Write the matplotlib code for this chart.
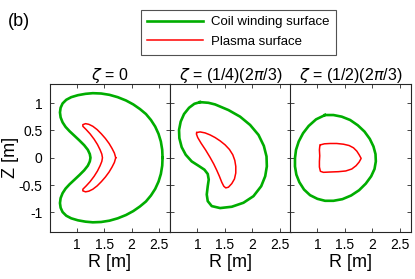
import matplotlib
matplotlib.use('Agg')
import matplotlib.pyplot as plt
from matplotlib.lines import Line2D

plt.rcParams['font.family'] = ['Liberation Sans', 'DejaVu Sans']
plt.rcParams['mathtext.fontset'] = 'dejavusans'

# cross-sections, (R, Z) in metres
coil_r_0 = [2.564, 2.558, 2.533, 2.491, 2.430, 2.352, 2.261, 2.152, 2.030, 1.897, 1.745, 1.594, 1.442,
            1.291, 1.158, 1.018, 0.897, 0.806, 0.739, 0.703, 0.691, 0.703, 0.739, 0.794, 0.867, 0.958,
            1.048, 1.133, 1.200, 1.236, 1.248,
            1.236, 1.200, 1.133, 1.048, 0.958, 0.867, 0.794, 0.739, 0.703, 0.691, 0.703, 0.739, 0.806,
            0.897, 1.018, 1.158, 1.291, 1.442, 1.594, 1.745, 1.897, 2.030, 2.152, 2.261, 2.352, 2.430,
            2.491, 2.533, 2.558, 2.564]
coil_z_0 = [0.000, 0.145, 0.297, 0.436, 0.570, 0.691, 0.800, 0.891, 0.976, 1.048, 1.109, 1.152, 1.176,
            1.182, 1.170, 1.145, 1.109, 1.061, 0.994, 0.915, 0.830, 0.739, 0.648, 0.564, 0.485, 0.400,
            0.315, 0.230, 0.145, 0.067, 0.000,
            -0.067, -0.145, -0.230, -0.315, -0.400, -0.485, -0.564, -0.648, -0.739, -0.830, -0.915, -0.994, -1.061,
            -1.109, -1.145, -1.170, -1.182, -1.176, -1.152, -1.109, -1.048, -0.976, -0.891, -0.800, -0.691, -0.570,
            -0.436, -0.297, -0.145, 0.000]
plasma_r_0 = [1.709, 1.685, 1.642, 1.588, 1.521, 1.448, 1.370, 1.291, 1.218, 1.158, 1.109, 1.109,
              1.170, 1.242, 1.315, 1.376, 1.424, 1.455, 1.467,
              1.455, 1.424, 1.376, 1.315, 1.242, 1.170,
              1.109, 1.109, 1.158, 1.218, 1.291, 1.370, 1.448, 1.521, 1.588, 1.642, 1.685, 1.709]
plasma_z_0 = [0.000, 0.085, 0.170, 0.261, 0.352, 0.436, 0.515, 0.576, 0.612, 0.624, 0.606, 0.576,
              0.515, 0.436, 0.339, 0.242, 0.145, 0.067, 0.000,
              -0.067, -0.145, -0.242, -0.339, -0.436, -0.515,
              -0.576, -0.606, -0.624, -0.612, -0.576, -0.515, -0.436, -0.352, -0.261, -0.170, -0.085, 0.000]

coil_r_1 = [1.049, 1.201, 1.323, 1.567, 1.780, 1.963, 2.116, 2.213, 2.262, 2.268, 2.238, 2.165, 2.024,
            1.841, 1.628, 1.415, 1.262, 1.189, 1.171, 1.189, 1.207, 1.189, 1.128, 1.018, 0.896, 0.787,
            0.713, 0.671, 0.665, 0.695, 0.756, 0.848, 0.945, 1.049]
coil_z_1 = [1.018, 1.006, 0.976, 0.873, 0.752, 0.600, 0.418, 0.218, 0.024, -0.158, -0.339, -0.521, -0.703,
            -0.824, -0.897, -0.921, -0.885, -0.794, -0.673, -0.521, -0.400, -0.297, -0.218, -0.145, -0.067, 0.055,
            0.194, 0.358, 0.509, 0.661, 0.800, 0.915, 0.988, 1.018]
plasma_r_1 = [0.988, 1.049, 1.140, 1.232, 1.323, 1.415, 1.506, 1.585, 1.646, 1.683, 1.701, 1.701, 1.677,
              1.628, 1.567, 1.518, 1.482, 1.445, 1.402, 1.354, 1.299, 1.232, 1.152, 1.067, 1.006, 0.982, 0.988]
plasma_z_1 = [0.461, 0.473, 0.455, 0.418, 0.370, 0.309, 0.236, 0.152, 0.055, -0.048, -0.158, -0.279, -0.388,
              -0.473, -0.539, -0.552, -0.521, -0.448, -0.339, -0.230, -0.115, 0.006, 0.139, 0.267, 0.370, 0.436, 0.461]

coil_r_2 = [1.140, 1.293, 1.445, 1.598, 1.738, 1.860, 1.957, 2.024, 2.061, 2.067, 2.043, 1.982, 1.884,
            1.762, 1.616, 1.457, 1.293, 1.140, 1.000, 0.866, 0.756, 0.671, 0.616, 0.591, 0.591, 0.610,
            0.659, 0.738, 0.841, 0.976, 1.140]
coil_z_2 = [0.782, 0.782, 0.752, 0.691, 0.594, 0.479, 0.345, 0.206, 0.067, -0.067, -0.206, -0.339, -0.473,
            -0.594, -0.691, -0.758, -0.788, -0.788, -0.752, -0.685, -0.582, -0.448, -0.309, -0.158, -0.006, 0.145,
            0.297, 0.448, 0.582, 0.703, 0.782]
plasma_r_2 = [1.055, 1.128, 1.232, 1.354, 1.476, 1.579, 1.659, 1.720, 1.762, 1.799, 1.762, 1.707, 1.628,
              1.518, 1.384, 1.232, 1.110, 1.055, 1.037, 1.037, 1.043, 1.037, 1.043, 1.055]
plasma_z_2 = [0.236, 0.255, 0.261, 0.261, 0.248, 0.224, 0.182, 0.121, 0.055, -0.012, -0.079, -0.145, -0.206,
              -0.242, -0.255, -0.261, -0.267, -0.248, -0.170, -0.067, 0.036, 0.145, 0.206, 0.236]

titles = [r'$\zeta$ = 0', r'$\zeta$ = (1/4)(2$\pi$/3)', r'$\zeta$ = (1/2)(2$\pi$/3)']
coils = [(coil_r_0, coil_z_0), (coil_r_1, coil_z_1), (coil_r_2, coil_z_2)]
plasmas = [(plasma_r_0, plasma_z_0), (plasma_r_1, plasma_z_1), (plasma_r_2, plasma_z_2)]
xticks = [1, 1.5, 2, 2.5]
yticks = [-1, -0.5, 0, 0.5, 1]

green = '#00ad00'
red = '#ff0000'

fig = plt.figure(figsize=(4.15, 2.79), dpi=100)
lefts = [49.5, 170, 290]
for i in range(3):
    ax = fig.add_axes([lefts[i] / 415, 47.5 / 279, 120.5 / 415, 147.5 / 279])
    ax.plot(coils[i][0], coils[i][1], color=green, lw=1.9, solid_joinstyle='round')
    ax.plot(plasmas[i][0], plasmas[i][1], color=red, lw=1.1, solid_joinstyle='round')
    ax.set_xlim(0.5, 2.7)
    ax.set_ylim(-1.35, 1.35)
    ax.set_xticks(xticks)
    ax.set_xticklabels(['1', '1.5', '2', '2.5'])
    ax.set_yticks(yticks)
    if i == 0:
        ax.set_yticklabels(['-1', '-0.5', '0', '0.5', '1'])
        ax.set_ylabel('Z [m]', fontsize=13, labelpad=0)
    else:
        ax.set_yticklabels([])
    ax.tick_params(direction='in', length=3, width=0.6, top=True, right=True,
                   labelsize=10, pad=5, color='#262626')
    for s in ax.spines.values():
        s.set_linewidth(0.8)
        s.set_color('#262626')
    ax.set_xlabel('R [m]', fontsize=13, labelpad=1)
    ax.set_title(titles[i], fontsize=11.5, pad=3)

handles = [Line2D([], [], color=green, lw=1.9), Line2D([], [], color=red, lw=1.1)]
leg = fig.legend(handles, ['Coil winding surface', 'Plasma surface'], loc='upper left',
                 bbox_to_anchor=(134 / 415, 1 - 3 / 279), fontsize=9.5, frameon=True, fancybox=False,
                 handlelength=4.2, borderpad=0.5, labelspacing=0.55, handletextpad=0.6)
leg.get_frame().set_edgecolor('#262626')
leg.get_frame().set_linewidth(0.8)

fig.text(8 / 415, 1 - 22 / 279, '(b)', fontsize=13, va='center')

fig.savefig('out.png', dpi=100)
